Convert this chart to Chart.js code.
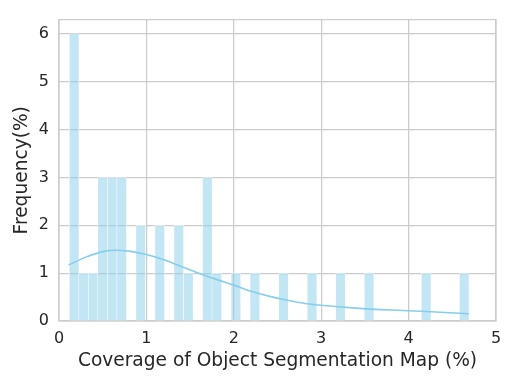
<!DOCTYPE html>
<html><head><meta charset="utf-8">
<script src="https://cdn.jsdelivr.net/npm/chart.js@4"></script>
<style>html,body{margin:0;padding:0;background:#fff;}#wrap{width:515px;height:386px;}</style>
</head><body><div id="wrap"><canvas id="c" width="515" height="386"></canvas></div>
<script>
// Histogram bins (42 equal bins)
const binStart = 0.1186;
const binWidth = 0.10886;
const binCounts = [6,1,1,3,3,3,0,2,0,2,0,2,1,0,3,1,0,1,0,1,0,0,1,0,0,1,0,0,1,0,0,1,0,0,0,0,0,1,0,0,0,1];
// KDE curve
const kdeX = [0.11,0.3,0.5,0.65,0.8,1.0,1.2,1.4,1.6,1.8,2.0,2.2,2.4,2.6,2.8,3.0,3.4,3.8,4.2,4.69];
const kdeY = [1.17,1.33,1.45,1.48,1.46,1.39,1.28,1.14,1.0,0.87,0.75,0.62,0.52,0.44,0.37,0.33,0.27,0.23,0.20,0.15];
const xTicks = [0,1,2,3,4,5];
const yTicks = [0,1,2,3,4,5,6];

const barData = binCounts.map((c,i)=>({x: binStart + binWidth*(i+0.5), y: c===0?null:c}));
const kdeData = kdeX.map((x,i)=>({x, y: kdeY[i]}));

const frame = {id:'frame', afterDraw(ch){const a=ch.chartArea, g=ch.ctx; g.save(); g.strokeStyle='#cccccc'; g.lineWidth=1.25; g.strokeRect(a.left,a.top,a.right-a.left,a.bottom-a.top); g.restore();}};

const txt = '#262626';
new Chart(document.getElementById('c'), {
  type: 'bar',
  data: { datasets: [
    { type:'bar', data: barData, backgroundColor:'rgba(135,206,235,0.5)', borderColor:'rgba(255,255,255,0.9)', borderWidth:0.5, borderSkipped:false, barPercentage:1, categoryPercentage:1, order:2 },
    { type:'line', data: kdeData, borderColor:'#87CEEB', borderWidth:1.6, pointRadius:0, cubicInterpolationMode:'monotone', fill:false, order:1 }
  ]},
  plugins:[frame],
  options: {
    responsive:false, animation:false, devicePixelRatio:1,
    layout:{padding:{left:0,right:19,top:14,bottom:14}},
    plugins:{legend:{display:false}, tooltip:{enabled:false}},
    scales:{
      x:{ type:'linear', min:0, max:5, offset:false, afterBuildTicks(s){s.ticks=xTicks.map(v=>({value:v}));},
          afterFit(s){s.height=51;},
          grid:{color:'#cccccc', lineWidth:1.25, drawTicks:false, offset:false},
          border:{display:false},
          ticks:{color:txt, font:{family:'DejaVu Sans', size:16}, padding:8, maxRotation:0},
          title:{display:true, text:'Coverage of Object Segmentation Map (%)', color:txt, font:{family:'DejaVu Sans', size:18.6}, padding:{top:2,bottom:0}} },
      y:{ type:'linear', min:0, max:6.3, afterBuildTicks(s){s.ticks=yTicks.map(v=>({value:v}));},
          afterFit(s){s.width=59;},
          grid:{color:'#cccccc', lineWidth:1.25, drawTicks:false},
          border:{display:false},
          ticks:{color:txt, font:{family:'DejaVu Sans', size:16}, padding:10},
          title:{display:true, text:'Frequency(%)', color:txt, font:{family:'DejaVu Sans', size:18.6}, padding:{top:11,bottom:4}} }
    }
  }
});
</script></body></html>
